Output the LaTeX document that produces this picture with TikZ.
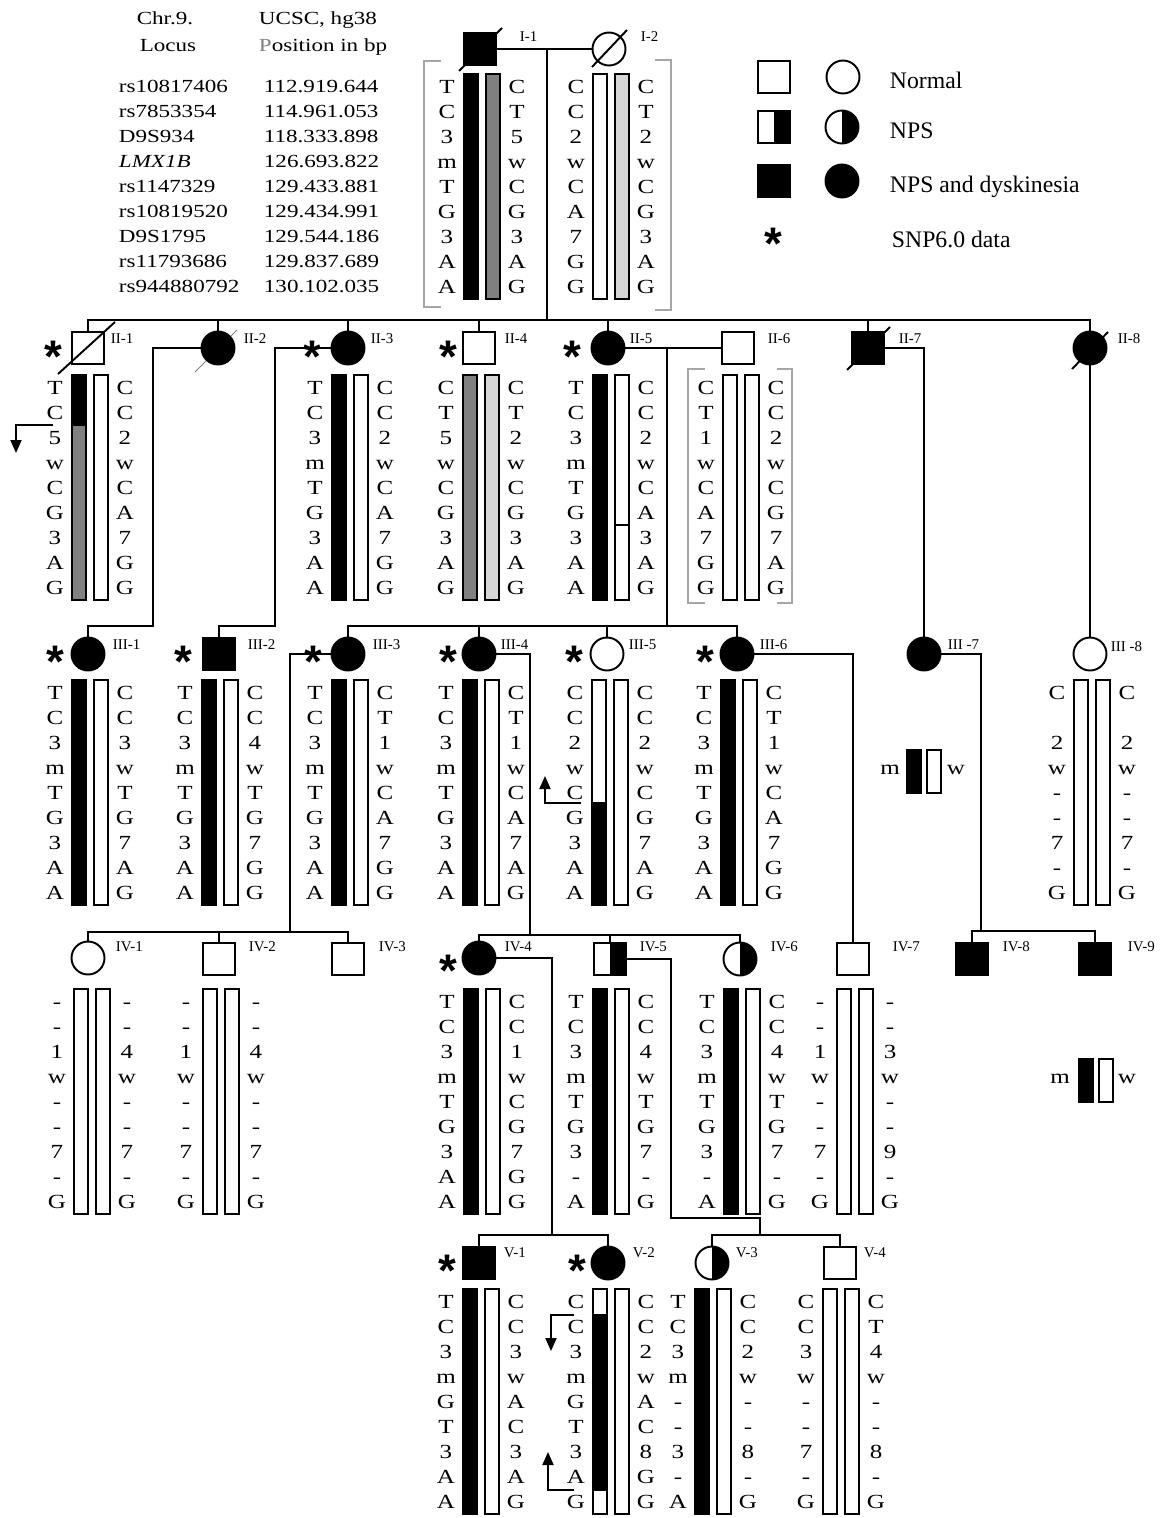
\documentclass[tikz,border=0pt]{standalone}
\usepackage{fontspec}
\setmainfont{Liberation Serif}
\newfontfamily\widefont[FakeStretch=1.25]{Liberation Serif}
\newfontfamily\starfont{Liberation Sans}
\usetikzlibrary{arrows.meta}
\colorlet{hapgray}{black!50}
\colorlet{hapsilver}{black!16}
\begin{document}
\begin{tikzpicture}[x=0.02cm, y=-0.02cm, line width=1.1pt,
    male/.style={draw, rectangle, minimum size=0.64cm, inner sep=0pt, fill=white},
    female/.style={draw, circle, minimum size=0.66cm, inner sep=0pt, fill=white},
    aff/.style={fill=black},
    half/.style={path picture={\fill[black] (path picture bounding box.south) rectangle (path picture bounding box.north east);}},
    lbl/.style={anchor=west, inner sep=0pt, font=\fontsize{8.5}{9}\selectfont},
    snp/.style={inner sep=0pt, text height=18.7pt, text depth=0pt, yshift=-4.6pt, font=\starfont\bfseries\fontsize{26}{26}\selectfont},
    allele/.style={inner sep=0pt, text height=7.6pt, text depth=0pt, font=\widefont\fontsize{11.4}{11.4}\selectfont},
    tab/.style={anchor=west, inner sep=0pt, text height=7pt, text depth=0pt, font=\widefont\fontsize{10.5}{11}\selectfont},
    leg/.style={anchor=west, inner sep=0pt, text height=8.8pt, text depth=0pt, font=\fontsize{13.5}{14}\selectfont},
    bracket/.style={gray!70, line width=0.6pt},
    recomb/.style={-{Triangle[width=0.22cm, length=0.26cm]}, line width=1.1pt},
]
    \useasboundingbox (0,0) rectangle (1161,1518);

    % Two bars of one person with the alleles beside them
    % #1 name, #2 left edge of first bar, #3 first row, #4 #5 bar fills, #6 #7 alleles
    \def\haplo#1#2#3#4#5#6#7{%
        \filldraw[fill=#4] (#2, #3-13) rectangle ++(14, 225);
        \filldraw[fill=#5] (#2+22, #3-13) rectangle ++(14, 225);
        \foreach \a [count=\k from 0] in {#6} \node[allele] (#1l\k) at (#2-17, #3+25*\k) {\a};
        \foreach \a [count=\k from 0] in {#7} \node[allele] (#1r\k) at (#2+53, #3+25*\k) {\a};
    }

    % Header and the table of markers
    \node[tab, anchor=center] (chr) at (165,18) {Chr.9.};
    \node[tab, anchor=center] (locus) at (168,45) {Locus};
    \node[tab] (ucsc) at (258,18) {UCSC, hg38};
    \node[tab] (posbp) at (258,45) {{\color{gray}P}osition in bp};
    \foreach \l/\p [count=\k from 0] in {rs10817406/112.919.644, rs7853354/114.961.053,
        D9S934/118.333.898, \textit{LMX1B}/126.693.822, rs1147329/129.433.881,
        rs10819520/129.434.991, D9S1795/129.544.186, rs11793686/129.837.689,
        rs944880792/130.102.035} {
        \node[tab] (mk\k) at (118, 86+25*\k) {\l};
        \node[tab] (bp\k) at (263, 86+25*\k) {\p};
    }

    % Legend
    \node[male] (lg1) at (774,77) {};
    \node[female] (lg2) at (843,77) {};
    \node[leg] (lg3) at (889,81) {Normal};
    \node[male, half] (lg4) at (774,127) {};
    \node[female, half] (lg5) at (842,127) {};
    \node[leg] (lg6) at (889,131) {NPS};
    \node[male, aff] (lg7) at (774,181) {};
    \node[female, aff] (lg8) at (842,181) {};
    \node[leg] (lg9) at (889,185) {NPS and dyskinesia};
    \node[snp] (lg10) at (773,235) {*};
    \node[leg] (lg11) at (891,240) {SNP6.0 data};

    % thin slash of II-2 lies under the symbol
    \draw[line width=0.5pt, gray] (195,372) -- (237,330);

    % Generation I
    \node[male, aff] (I1) at (480,49) {};
    \node[female] (I2) at (609,49) {};
    % Generation II
    \node[male] (II1) at (88,348) {};
    \node[female, aff] (II2) at (218,348) {};
    \node[female, aff] (II3) at (348,348) {};
    \node[male] (II4) at (479,348) {};
    \node[female, aff] (II5) at (608,348) {};
    \node[male] (II6) at (738,348) {};
    \node[male, aff] (II7) at (868,348) {};
    \node[female, aff] (II8) at (1090,348) {};
    % Generation III
    \node[female, aff] (III1) at (88,654) {};
    \node[male, aff] (III2) at (219,654) {};
    \node[female, aff] (III3) at (348,654) {};
    \node[female, aff] (III4) at (479,654) {};
    \node[female] (III5) at (607,654) {};
    \node[female, aff] (III6) at (737,654) {};
    \node[female, aff] (III7) at (924,654) {};
    \node[female] (III8) at (1090,654) {};
    % Generation IV
    \node[female] (IV1) at (88,958) {};
    \node[male] (IV2) at (219,959) {};
    \node[male] (IV3) at (348,959) {};
    \node[female, aff] (IV4) at (479,958) {};
    \node[male, half] (IV5) at (610,959) {};
    \node[female, half] (IV6) at (740,959) {};
    \node[male] (IV7) at (853,959) {};
    \node[male, aff] (IV8) at (972,959) {};
    \node[male, aff] (IV9) at (1095,959) {};
    % Generation V
    \node[male, aff] (V1) at (479,1263) {};
    \node[female, aff] (V2) at (608,1263) {};
    \node[female, half] (V3) at (712,1263) {};
    \node[male] (V4) at (840,1263) {};

    % Deceased
    \draw (459,71) -- (502,28);
    \draw (592,67) -- (627,30);
    \draw (58,374) -- (115,322);
    \draw (847,370) -- (890,327);
    \draw (1072,369) -- (1108,332);

    % Labels
    \foreach \n/\t/\x/\y in {I1/I-1/519/37, I2/I-2/640/37,
        II1/II-1/110/339, II2/II-2/243/339, II3/II-3/370/339, II4/II-4/504/339,
        II5/II-5/629/339, II6/II-6/767/339, II7/II-7/898/339, II8/II-8/1117/339,
        III1/III-1/112/645, III2/III-2/247/645, III3/III-3/372/645, III4/III-4/500/645,
        III5/III-5/628/645, III6/III-6/759/645, III7/III -7/947/645, III8/III -8/1110/647,
        IV1/IV-1/115/947, IV2/IV-2/248/947, IV3/IV-3/378/947, IV4/IV-4/504/947,
        IV5/IV-5/639/947, IV6/IV-6/770/947, IV7/IV-7/892/947, IV8/IV-8/1002/947,
        IV9/IV-9/1127/947,
        V1/V-1/503/1253, V2/V-2/632/1253, V3/V-3/735/1253, V4/V-4/863/1253}
        \node[lbl] (t\n) at (\x,\y) {\t};

    % SNP6.0 data
    \foreach \n/\x/\y in {II1/53/348, II3/312/348, II4/448/348, II5/572/348,
        III1/55/653, III2/183/653, III3/313/653, III4/448/653, III5/574/653,
        III6/705/653, IV4/448/962, V1/447/1262, V2/577/1262}
        \node[snp] (s\n) at (\x,\y) {*};

    % Lines of descent
    \coordinate (m1) at (547,49);
    \coordinate (s2) at (547,320);
    \draw (I1.east) -- (I2.west);
    \draw (m1) -- (s2);
    \draw (II1.north) |- (s2) -| (II8.north);
    \foreach \c in {II2,II3,II4,II5,II7} \draw (\c.north |- s2) -- (\c.north);

    \coordinate (k22) at (153,626);
    \coordinate (k23) at (275,626);
    \draw (II2.west) -| (k22) -| (III1.north);
    \draw (II3.west) -| (k23) -| (III2.north);

    \coordinate (m25) at (667,348);
    \coordinate (s3) at (667,626);
    \draw (II5.east) -- (II6.west);
    \draw (m25) -- (s3);
    \draw (III3.north) |- (s3) -| (III6.north);
    \foreach \c in {III4,III5} \draw (\c.north |- s3) -- (\c.north);

    \draw (II7.east) -| (III7.north);
    \draw (II8.south) -- (III8.north);

    \coordinate (k33) at (290,932);
    \draw (III3.west) -| (k33);
    \draw (IV1.north) |- (k33) -| (IV3.north);
    \draw (IV2.north |- k33) -- (IV2.north);

    \coordinate (k34) at (530,935);
    \draw (III4.east) -| (k34);
    \draw (IV4.north) |- (k34) -| (IV6.north);
    \draw (IV5.north |- k34) -- (IV5.north);

    \draw (III6.east) -| (IV7.north);

    \coordinate (k37) at (981,931);
    \draw (III7.east) -| (k37);
    \draw (IV8.north) |- (k37) -| (IV9.north);

    \coordinate (k44) at (552,1235);
    \draw (IV4.east) -| (k44);
    \draw (V1.north) |- (k44) -| (V2.north);

    \coordinate (k45a) at (671,1218);
    \coordinate (k45) at (760,1235);
    \draw (IV5.east) -| (k45a) -| (k45);
    \draw (V3.north) |- (k45) -| (V4.north);

    % Haplotypes
    \haplo{h11}{464}{87}{black}{hapgray}{T,C,3,m,T,G,3,A,A}{C,T,5,w,C,G,3,A,G}
    \haplo{h12}{593}{87}{white}{hapsilver}{C,C,2,w,C,A,7,G,G}{C,T,2,w,C,G,3,A,G}
    \haplo{h21}{72}{388}{hapgray}{white}{T,C,5,w,C,G,3,A,G}{C,C,2,w,C,A,7,G,G}
    \filldraw[fill=black] (72,375) rectangle (86,425);
    \haplo{h23}{332}{388}{black}{white}{T,C,3,m,T,G,3,A,A}{C,C,2,w,C,A,7,G,G}
    \haplo{h24}{463}{388}{hapgray}{hapsilver}{C,T,5,w,C,G,3,A,G}{C,T,2,w,C,G,3,A,G}
    \haplo{h25}{593}{388}{black}{white}{T,C,3,m,T,G,3,A,A}{C,C,2,w,C,A,3,A,G}
    \draw (615,525) -- (629,525);
    \haplo{h26}{723}{388}{white}{white}{C,T,1,w,C,A,7,G,G}{C,C,2,w,C,G,7,A,G}
    \haplo{h31}{72}{693}{black}{white}{T,C,3,m,T,G,3,A,A}{C,C,3,w,T,G,7,A,G}
    \haplo{h32}{202}{693}{black}{white}{T,C,3,m,T,G,3,A,A}{C,C,4,w,T,G,7,G,G}
    \haplo{h33}{332}{693}{black}{white}{T,C,3,m,T,G,3,A,A}{C,T,1,w,C,A,7,G,G}
    \haplo{h34}{463}{693}{black}{white}{T,C,3,m,T,G,3,A,A}{C,T,1,w,C,A,7,A,G}
    \haplo{h35}{592}{693}{white}{white}{C,C,2,w,C,G,3,A,A}{C,C,2,w,C,G,7,A,G}
    \filldraw[fill=black] (592,803) rectangle (606,905);
    \haplo{h36}{721}{693}{black}{white}{T,C,3,m,T,G,3,A,A}{C,T,1,w,C,A,7,G,G}
    \haplo{h38}{1074}{693}{white}{white}{C,{},2,w,-,-,7,-,G}{C,{},2,w,-,-,7,-,G}
    \haplo{h41}{74}{1002}{white}{white}{-,-,1,w,-,-,7,-,G}{-,-,4,w,-,-,7,-,G}
    \haplo{h42}{203}{1002}{white}{white}{-,-,1,w,-,-,7,-,G}{-,-,4,w,-,-,7,-,G}
    \haplo{h44}{464}{1002}{black}{white}{T,C,3,m,T,G,3,A,A}{C,C,1,w,C,G,7,G,G}
    \haplo{h45}{593}{1002}{black}{white}{T,C,3,m,T,G,3,-,A}{C,C,4,w,T,G,7,-,G}
    \haplo{h46}{724}{1002}{black}{white}{T,C,3,m,T,G,3,-,A}{C,C,4,w,T,G,7,-,G}
    \haplo{h47}{837}{1002}{white}{white}{-,-,1,w,-,-,7,-,G}{-,-,3,w,-,-,9,-,G}
    \haplo{h51}{463}{1302}{black}{white}{T,C,3,m,G,T,3,A,A}{C,C,3,w,A,C,3,A,G}
    \haplo{h52}{593}{1302}{black}{white}{C,C,3,m,G,T,3,A,G}{C,C,2,w,A,C,8,G,G}
    \filldraw[fill=white] (593,1289) rectangle (607,1315);
    \filldraw[fill=white] (593,1490) rectangle (607,1514);
    \haplo{h53}{695}{1302}{black}{white}{T,C,3,m,-,-,3,-,A}{C,C,2,w,-,-,8,-,G}
    \haplo{h54}{823}{1302}{white}{white}{C,C,3,w,-,-,7,-,G}{C,T,4,w,-,-,8,-,G}

    % Brackets
    \draw[bracket] (441,61) -- (424,61) -- (424,307) -- (441,307);
    \draw[bracket] (655,60) -- (671,60) -- (671,310) -- (655,310);
    \draw[bracket] (705,369) -- (688,369) -- (688,603) -- (705,603);
    \draw[bracket] (777,369) -- (792,369) -- (792,603) -- (777,603);

    % Recombinations
    \draw[recomb] (53,425) -| (16,453);
    \draw[recomb] (581,803) -| (545,776);
    \draw[recomb] (574,1315) -| (551,1351);
    \draw[recomb] (574,1490) -| (548,1452);

    % m and w keys
    \node[allele] (key1m) at (890,768) {m};
    \filldraw[fill=black] (907,750) rectangle (921,793);
    \filldraw[fill=white] (927,750) rectangle (941,793);
    \node[allele] (key1w) at (956,768) {w};
    \node[allele] (key2m) at (1060,1077) {m};
    \filldraw[fill=black] (1079,1059) rectangle (1093,1102);
    \filldraw[fill=white] (1099,1059) rectangle (1113,1102);
    \node[allele] (key2w) at (1127,1077) {w};
\end{tikzpicture}
\end{document}
